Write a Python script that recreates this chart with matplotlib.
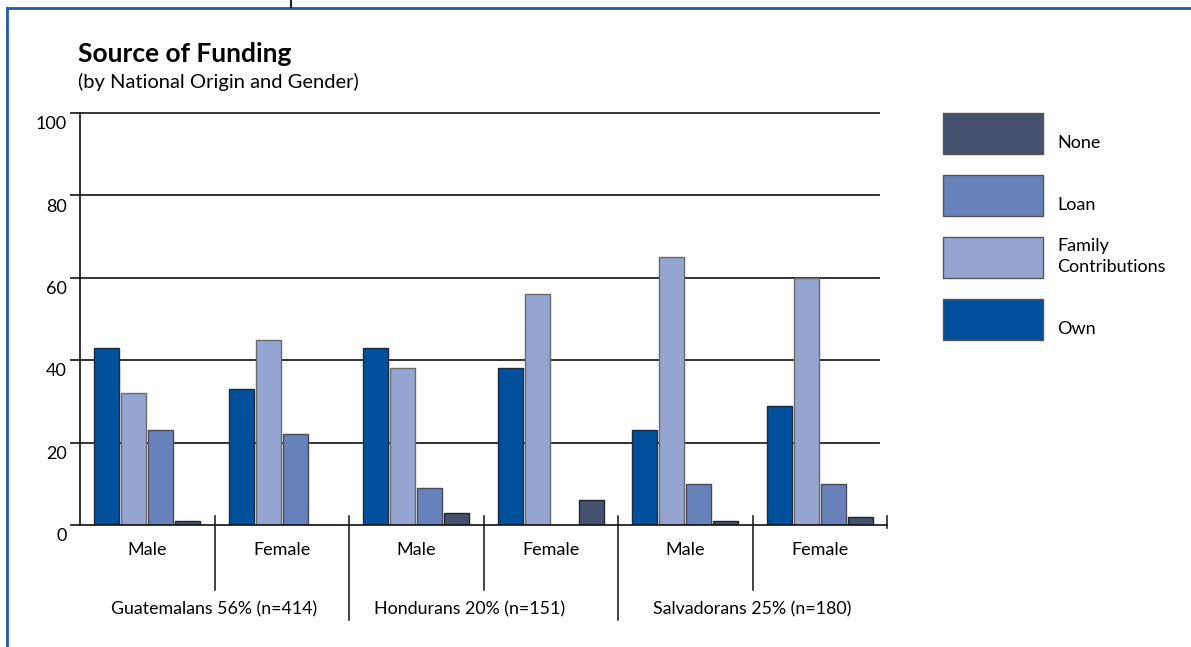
import matplotlib
matplotlib.use('Agg')
import matplotlib.pyplot as plt
from matplotlib.patches import Rectangle
from matplotlib.lines import Line2D
import matplotlib.transforms as mtransforms
import numpy as np

plt.rcParams['font.family'] = ['Lato', 'DejaVu Sans']

# data (percent)
groups = ['Male', 'Female', 'Male', 'Female', 'Male', 'Female']
countries = ['Guatemalans 56% (n=414)', 'Hondurans 20% (n=151)', 'Salvadorans 25% (n=180)']
series = ['Own', 'Family\nContributions', 'Loan', 'None']
own = [43, 33, 43, 38, 23, 29]
family = [32, 45, 38, 56, 65, 60]
loan = [23, 22, 9, 0, 10, 10]
none = [1, 0, 3, 6, 1, 2]
yticks = [0, 20, 40, 60, 80, 100]

colors = ['#00509c', '#94a5d1', '#6782ba', '#44526f']
edges = ['#1a2a45', '#6a6a6a', '#4a4a5a', '#222233']

W, H = 1191, 647
fig = plt.figure(figsize=(W / 100, H / 100), dpi=100)

def fx(px):
    return px / W

def fy(py):
    return 1 - py / H

ax = fig.add_axes([fx(80), fy(525), fx(887) - fx(80), fy(113) - fy(525)])
ax.set_xlim(0, 6)
ax.set_ylim(0, 100)
for s in ax.spines.values():
    s.set_visible(False)
ax.set_xticks([])
ax.set_yticks([])

# grid / reference lines
for v in yticks[1:]:
    ax.plot([-0.065, 5.94], [v, v], color='#333333', lw=1.4, clip_on=False, zorder=1)
ax.plot([0, 0], [0, 100], color='#111111', lw=1.2, clip_on=False, zorder=3)
ax.plot([-0.065, 6], [0, 0], color='#111111', lw=1.2, clip_on=False, zorder=3)

off = mtransforms.ScaledTranslation(0, -8 / 72, fig.dpi_scale_trans)
for v in yticks:
    ax.text(-0.1, v, str(v), ha='right', va='center', fontsize=13,
            transform=ax.transData + off)

# bars
vals = [own, family, loan, none]
x = np.arange(len(groups)) + 0.5
step = 0.2
width = 0.186
for i, (v, c, e) in enumerate(zip(vals, colors, edges)):
    ax.bar(x + (i - 1.5) * step, v, width, color=c, edgecolor=e, linewidth=1, zorder=2)

# dividers below axis
for g in range(1, 7):
    bottom = -23.1 if g in (2, 4) else -15.8
    if g == 6:
        bottom = -0.8
    ax.plot([g, g], [2.2, bottom], color='#111111', lw=1.1, clip_on=False)

for xi, lab in zip(x, groups):
    ax.text(xi, -6.0, lab, ha='center', va='center', fontsize=13)
for ci, lab in zip([1.0, 2.9, 5.0], countries):
    ax.text(ci, -20.4, lab, ha='center', va='center', fontsize=12.8)

# title
fig.text(fx(78), fy(54), 'Source of Funding', fontsize=19, fontweight='bold', va='center')
fig.text(fx(78), fy(82), '(by National Origin and Gender)', fontsize=14.5, va='center')

# legend
leg_order = [3, 2, 1, 0]
leg_tops = [113, 175, 237, 299]
for top, idx in zip(leg_tops, leg_order):
    fig.add_artist(Rectangle((fx(943), fy(top + 41)), fx(100), fy(top) - fy(top + 41),
                             facecolor=colors[idx], edgecolor='#555555', lw=1,
                             transform=fig.transFigure))
    fig.text(fx(1057), fy(top + 38), series[idx],
             fontsize=13, va='bottom', ha='left', linespacing=1.4)

# frame
blue = '#1f5aa6'
fig.add_artist(Line2D([fx(7), 1], [fy(8), fy(8)], color=blue, lw=2, transform=fig.transFigure))
fig.add_artist(Line2D([fx(7), fx(7)], [fy(8), 0], color=blue, lw=2, transform=fig.transFigure))
fig.add_artist(Line2D([fx(291), fx(291)], [1, fy(7)], color='#222222', lw=1.5, transform=fig.transFigure))

fig.savefig('out.png', dpi=100)
